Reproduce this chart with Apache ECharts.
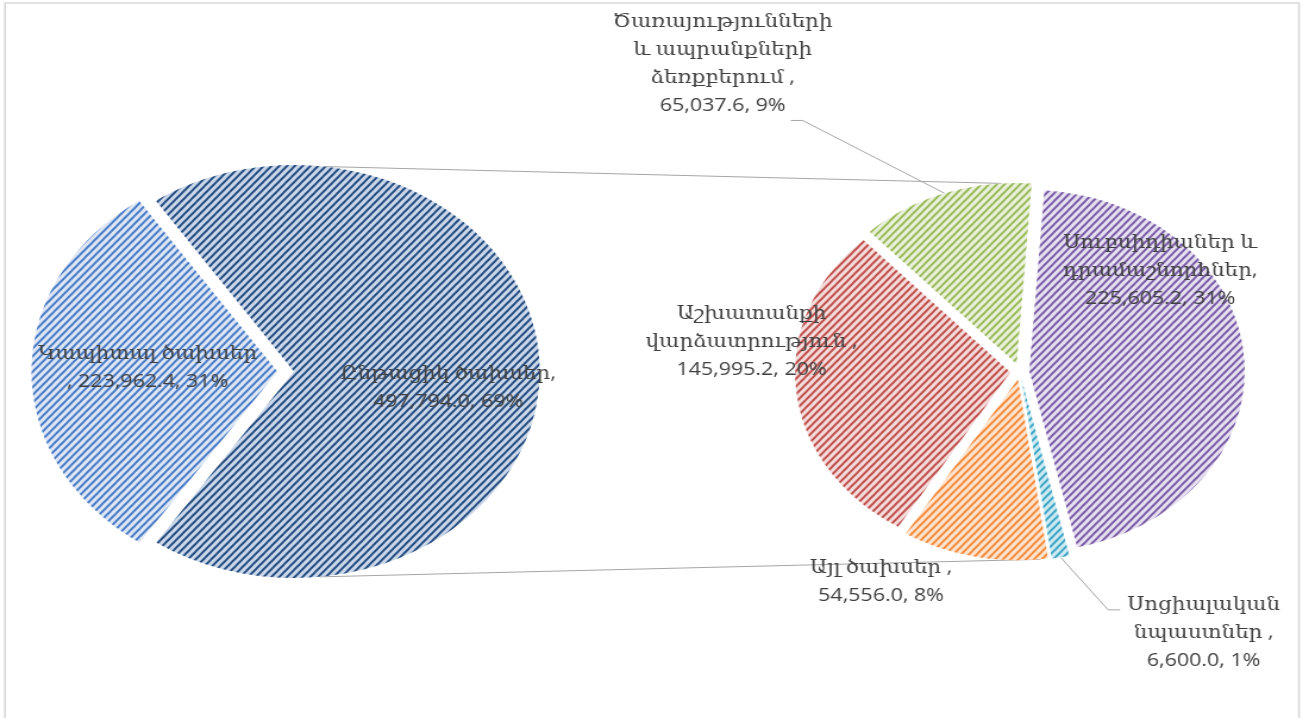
<!DOCTYPE html>
<html><head><meta charset="utf-8">
<script src="https://cdn.jsdelivr.net/npm/echarts@6/dist/echarts.min.js"></script>
<style>
html,body{margin:0;padding:0;background:#fff;overflow:hidden;}
#chart{width:1095px;height:718px;transform:scaleX(1.19);transform-origin:0 0;}
</style></head><body><div id="chart"></div>
<script>
// ---- data ----
const mainCategories = ['Ընթացիկ ծախսեր', 'Կապիտալ ծախսեր'];
const mainValues = [497794.0, 223962.4];
const mainLabelNames = ['Ընթացիկ ծախսեր,\n', 'Կապիտալ ծախսեր\n, '];

const detailCategories = ['Սուբսիդիաներ և դրամաշնորհներ', 'Սոցիալական նպաստներ', 'Այլ ծախսեր', 'Աշխատանքի վարձատրություն', 'Ծառայությունների և ապրանքների ձեռքբերում'];
const detailValues = [225605.2, 6600.0, 54556.0, 145995.2, 65037.6];
const detailLabelNames = ['Սուբսիդիաներ և\nդրամաշնորհներ,\n', 'Սոցիալական\nնպաստներ ,\n', 'Այլ ծախսեր ,\n', 'Աշխատանքի\nվարձատրություն ,\n', 'Ծառայությունների\nև ապրանքների\nձեռքբերում ,\n'];

// ---- styling ----
const mainFill = ['#cad7ea', '#dce6f4'];
const mainStripe = ['#264d80', '#4a7cc8'];
const detailFill = ['#e6dff0', '#cdeaf3', '#fde4d0', '#f3dbda', '#e9f0dc'];
const detailStripe = ['#7b5ea8', '#3fa6c4', '#f68b3a', '#c0504d', '#9bbb59'];

const total = mainValues.reduce((a, b) => a + b, 0);
const fmt = v => v.toLocaleString('en-US', {minimumFractionDigits: 1, maximumFractionDigits: 1});
const pct = v => Math.round(v / total * 100) + '%';

function decal(color) {
  return {symbol: 'rect', symbolSize: 1, color: color, dashArrayX: [1, 0], dashArrayY: [1.6, 2.8], rotation: -0.87};
}

const font = {fontFamily: "'Open Sans', 'DejaVu Serif', 'DejaVu Sans', sans-serif", fontSize: 18, lineHeight: 28, color: '#404040'};

const LC = [240, 371.5], LR = 206.5, LOFF = 7;
const RC = [857, 371.5], RR = 181, ROFF = 8;
const rad = d => d * Math.PI / 180;
function pt(c, off, offDir, r, ang) {
  return [c[0] + off * Math.cos(rad(offDir)) + r * Math.cos(rad(ang)),
          c[1] - off * Math.sin(rad(offDir)) - r * Math.sin(rad(ang))];
}
const lTop = pt(LC, LOFF, 0, LR, 83), lBot = pt(LC, LOFF, 0, LR, -84);
const rTop = pt(RC, ROFF, 109.5, RR, 94), rBot = pt(RC, ROFF, -101.7, RR, -84);

// label block centres (chart pixels)
const mainLabelAt = [[369.5, 388], [131, 368]];
const detailLabelAt = [[967, 271], [1010, 625], [742, 574], [639.5, 341], [610, 71]];

function placeLabel(p, target, lineKind) {
  const r = p.labelRect;
  const anchorX = p.align === 'right' ? r.x + r.width : (p.align === 'left' ? r.x : r.x + r.width / 2);
  const out = {
    dx: target[0] - anchorX,
    dy: target[1] - (r.y + r.height / 2),
    align: 'center'
  };
  if (lineKind && p.labelLinePoints) {
    const nx = target[0] - r.width / 2, ny = target[1] - r.height / 2;
    const start = p.labelLinePoints[0];
    if (lineKind === 'belowRight') {
      const by = ny + r.height + 1, ex = nx + r.width * 0.81;
      out.labelLinePoints = [start, [ex + 10, by], [ex, by]];
    } else {
      const y = ny + 19;
      out.labelLinePoints = [start, [nx - 16, y], [nx - 6, y]];
    }
  }
  return out;
}

const mainData = mainCategories.map((n, i) => ({
  name: n, value: mainValues[i], selected: true,
  itemStyle: {color: mainFill[i], decal: decal(mainStripe[i])},
  label: {formatter: mainLabelNames[i] + fmt(mainValues[i]) + ', ' + pct(mainValues[i])}
}));

const detailPos = ['inside', 'outside', 'outside', 'inside', 'outside'];
const detailLine = [null, 'leftSide', null, null, 'belowRight'];
const detailData = detailCategories.map((n, i) => ({
  name: n, value: detailValues[i], selected: true,
  itemStyle: {color: detailFill[i], decal: decal(detailStripe[i])},
  label: {position: detailPos[i], formatter: detailLabelNames[i] + fmt(detailValues[i]) + ', ' + pct(detailValues[i])},
  labelLine: {show: !!detailLine[i]}
}));

const chart = echarts.init(document.getElementById('chart'), null, {renderer: 'canvas'});
chart.setOption({
  animation: false,
  aria: {enabled: true, decal: {show: true}},
  graphic: [
    {type: 'rect', z: 0, shape: {x: 5 / 1.19, y: 3, width: 1294 / 1.19, height: 780}, style: {fill: 'none', stroke: '#d9d9d9', lineWidth: 1.6}},
    {type: 'line', z: 0, shape: {x1: lTop[0], y1: lTop[1], x2: rTop[0], y2: rTop[1]}, style: {stroke: '#a6a6a6', lineWidth: 1}},
    {type: 'line', z: 0, shape: {x1: lBot[0], y1: lBot[1], x2: rBot[0], y2: rBot[1]}, style: {stroke: '#a6a6a6', lineWidth: 1}}
  ],
  series: [
    {
      type: 'pie', center: LC, radius: LR, startAngle: 124.2, clockwise: true,
      selectedMode: 'multiple', selectedOffset: LOFF, avoidLabelOverlap: false,
      emphasis: {disabled: true}, select: {itemStyle: {borderWidth: 0}},
      label: Object.assign({position: 'inside', align: 'center'}, font),
      labelLine: {show: false},
      labelLayout: p => placeLabel(p, mainLabelAt[p.dataIndex], null),
      data: mainData
    },
    {
      type: 'pie', center: RC, radius: RR, startAngle: 86, clockwise: true,
      selectedMode: 'multiple', selectedOffset: ROFF, avoidLabelOverlap: false,
      emphasis: {disabled: true}, select: {itemStyle: {borderWidth: 0}},
      label: Object.assign({align: 'center'}, font),
      labelLine: {lineStyle: {color: '#a6a6a6', width: 1}, length: 20, length2: 8},
      labelLayout: p => placeLabel(p, detailLabelAt[p.dataIndex], detailLine[p.dataIndex]),
      data: detailData
    }
  ]
});
</script></body></html>
